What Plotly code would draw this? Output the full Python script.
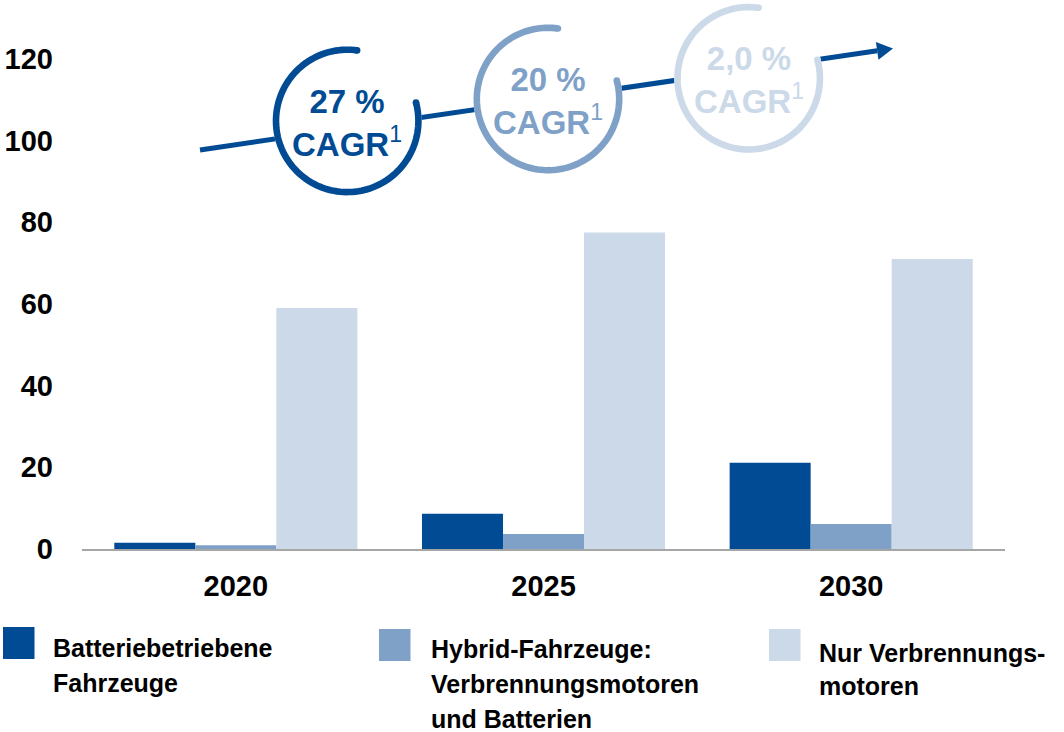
import numpy as np
import plotly.graph_objects as go

# ---- data -------------------------------------------------------------
YEARS = ["2020", "2025", "2030"]
SERIES_NAMES = [
    "Batteriebetriebene\nFahrzeuge",
    "Hybrid-Fahrzeuge:\nVerbrennungsmotoren\nund Batterien",
    "Nur Verbrennungs-\nmotoren",
]
BATTERY = [1.5, 8.6, 21.1]
HYBRID = [0.9, 3.7, 6.1]
COMBUSTION = [59.0, 77.5, 71.0]
SERIES_VALUES = [BATTERY, HYBRID, COMBUSTION]
Y_TICKS = [0, 20, 40, 60, 80, 100, 120]
CAGR_LABELS = ["27 %", "20 %", "2,0 %"]

# ---- styling ----------------------------------------------------------
COLORS = ["#004B93", "#7FA1C8", "#CBD9E8"]
FONT = "Liberation Sans, Arial, Helvetica, sans-serif"
W, H = 1064, 732
M_L, M_R, M_T, M_B = 82, 59, 18, 183
PW = W - M_L - M_R
PH = H - M_T - M_B


def fx(px):
    """pixel x -> paper x"""
    return (px - M_L) / PW


def fy(py):
    """pixel y (from top) -> paper y"""
    return (H - M_B - py) / PH


def arc_path(cx, cy, r, a0, a1, n=120):
    ang = np.radians(np.linspace(a0, a1, n))
    xs = cx + r * np.cos(ang)
    ys = cy - r * np.sin(ang)
    parts = [f"{'M' if i == 0 else 'L'}{fx(x):.5f},{fy(y):.5f}" for i, (x, y) in enumerate(zip(xs, ys))]
    return " ".join(parts)


def disc(cx, cy, r, color):
    return dict(type="circle", xref="paper", yref="paper",
                x0=fx(cx - r), x1=fx(cx + r), y0=fy(cy + r), y1=fy(cy - r),
                fillcolor=color, line=dict(width=0), layer="above")


fig = go.Figure()
for name, vals, col in zip(SERIES_NAMES, SERIES_VALUES, COLORS):
    fig.add_trace(go.Bar(x=YEARS, y=vals, name=name.replace("\n", " "),
                         marker=dict(color=col, line=dict(width=0)),
                         showlegend=False))

shapes = []
annotations = []

# growth arrow
tip = (893.0, 48.5)
start = (200.0, 150.0)
d = np.array(tip) - np.array(start)
d = d / np.linalg.norm(d)
perp = np.array([-d[1], d[0]])
base = np.array(tip) - 16 * d
b1 = base + 9 * perp
b2 = base - 9 * perp
shapes.append(dict(type="line", xref="paper", yref="paper",
                   x0=fx(start[0]), y0=fy(start[1]), x1=fx(base[0]), y1=fy(base[1]),
                   line=dict(color=COLORS[0], width=5), layer="above"))
shapes.append(dict(type="path", xref="paper", yref="paper",
                   path=f"M{fx(tip[0])},{fy(tip[1])} L{fx(b1[0])},{fy(b1[1])} "
                        f"L{fx(b2[0])},{fy(b2[1])} Z",
                   fillcolor=COLORS[0], line=dict(width=0), layer="above"))

# CAGR rings
ring_centers = [(347.2, 120.9), (548.0, 99.0), (748.7, 78.3)]
R_MID, STROKE = 71.2, 6.6
A_END, A_START = 15.0, 82.0
for (cx, cy), lab, col in zip(ring_centers, CAGR_LABELS, COLORS):
    shapes.append(disc(cx, cy, R_MID + STROKE / 2, "white"))
    shapes.append(dict(type="path", xref="paper", yref="paper",
                       path=arc_path(cx, cy, R_MID, A_END, A_START - 360),
                       line=dict(color=col, width=STROKE), layer="above"))
    for a in (A_END, A_START):
        ex = cx + R_MID * np.cos(np.radians(a))
        ey = cy - R_MID * np.sin(np.radians(a))
        shapes.append(disc(ex, ey, STROKE / 2, col))
    annotations.append(dict(
        xref="paper", yref="paper", x=fx(cx), y=fy(cy + 2),
        xanchor="center", yanchor="middle", showarrow=False,
        text=f"<b>{lab}</b><br><b>CAGR</b><sup>1</sup>",
        font=dict(family=FONT, size=33, color=col), align="center"))

# legend
legend_pos = [
    dict(sq=(3, 627), tx=51, ys=[647.7, 682.7]),
    dict(sq=(379, 629), tx=429, ys=[649.3, 684.3, 719.3]),
    dict(sq=(769, 629), tx=817, ys=[652.7, 686.0]),
]
for name, col, pos in zip(SERIES_NAMES, COLORS, legend_pos):
    sx, sy = pos["sq"]
    shapes.append(dict(type="rect", xref="paper", yref="paper",
                       x0=fx(sx), x1=fx(sx + 31.5), y0=fy(sy + 32), y1=fy(sy),
                       fillcolor=col, line=dict(width=0)))
    for line, ly in zip(name.split("\n"), pos["ys"]):
        annotations.append(dict(
            xref="paper", yref="paper", x=fx(pos["tx"]), y=fy(ly),
            xanchor="left", yanchor="middle", showarrow=False,
            text=line, font=dict(family=FONT, size=25, color="black", weight="bold")))

fig.update_layout(
    width=W, height=H,
    margin=dict(l=M_L, r=M_R, t=M_T, b=M_B, pad=0, autoexpand=False),
    paper_bgcolor="white", plot_bgcolor="white",
    barmode="group", bargap=0.21, bargroupgap=0,
    font=dict(family=FONT, color="black"),
    shapes=shapes, annotations=annotations,
    xaxis=dict(range=[-0.5, 2.5], showgrid=False, zeroline=False, automargin=False,
               showline=True, linecolor="#A6A6A6", linewidth=2, ticks="",
               tickfont=dict(family=FONT, size=29, color="black", weight="bold"),
               ticklabelstandoff=10),
    yaxis=dict(range=[0, 130], tickvals=Y_TICKS, showgrid=False, zeroline=False,
               automargin=False, showline=False, ticks="",
               tickfont=dict(family=FONT, size=29, color="black", weight="bold"),
               ticklabelstandoff=28),
)

fig.write_html("out.html")
